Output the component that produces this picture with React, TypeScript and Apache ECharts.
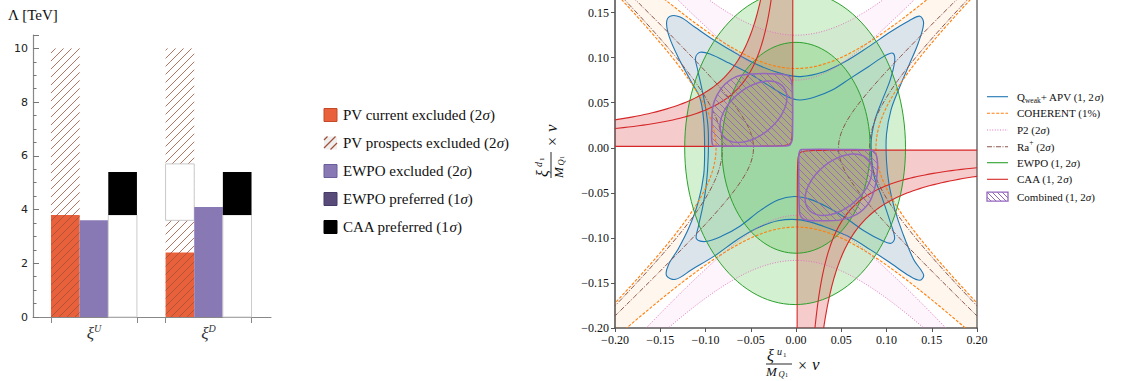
import React, { useEffect, useRef } from 'react';
import * as echarts from 'echarts';

// ===== Left panel: bar values (Λ in TeV) =====
const barCategories = ['U', 'D'];
const barCenters = [0, 1];
const pvCurrentExcluded = [3.8, 2.4];
const pvProspectsExcluded = [10, 10];
const pvProspectsGap: any[] = [null, [3.6, 5.7]];
const ewpoExcluded = [3.6, 4.1];
const caaPreferredRange = [[3.8, 5.4], [3.8, 5.4]];
const barGroupEdges = [-0.375, 0.375, 0.625, 1.375];
const leftLegendLabels = ['PV current excluded', 'PV prospects excluded', 'EWPO excluded', 'EWPO preferred', 'CAA preferred'];
const leftLegendSigma = ['2', '2', '2', '1', '1'];

// ===== Right panel: contour parameters =====
// EWPO ellipses: cx, cy, semi-axis x, semi-axis y (1σ, 2σ)
const ewpoEllipses = [[0, 0, 0.082, 0.117], [-0.001, 0, 0.122, 0.174]];
// CAA: asymptote corner (x, y) and outward direction (sx, sy)
const caaCorners = [[-0.0035, 0.0015, -1, 1], [0.0012, -0.0025, 1, -1]];
// CAA levels of |Δx|·|Δy|: inner edge, 1σ, 2σ
const caaLevels = [0.00001, 0.0039, 0.0058];
// COHERENT band: x² − (y/s)² between the two levels
const coherentSlope = 0.96;
const coherentLevels = [-0.0084, 0.0078];
// Ra+ : x² − (y/s)² = level (side branches)
const raSlope = 0.96;
const raLevels = [0.0022, 0.0066];
// P2: y²/C² − x²/D² = 1, [C, D] inner and outer
const p2Hyperbolas = [[0.075, 0.067], [0.125, 0.113]];
// Qweak + APV contours (x, y)
const qweak2sigma = [
  [-0.143, 0.139], [-0.139, 0.146], [-0.128, 0.145], [-0.112, 0.134], [-0.090, 0.119],
  [-0.065, 0.104], [-0.040, 0.091], [-0.015, 0.082], [0.005, 0.079], [0.030, 0.084],
  [0.055, 0.096], [0.080, 0.112], [0.105, 0.129], [0.125, 0.141], [0.137, 0.146],
  [0.141, 0.138], [0.135, 0.116], [0.125, 0.092], [0.114, 0.066], [0.105, 0.042],
  [0.100, 0.015], [0.100, -0.015], [0.103, -0.042], [0.109, -0.068], [0.118, -0.095],
  [0.130, -0.124], [0.141, -0.141], [0.137, -0.147], [0.125, -0.142], [0.106, -0.129],
  [0.082, -0.113], [0.057, -0.098], [0.030, -0.087], [0.005, -0.080], [-0.020, -0.081],
  [-0.045, -0.090], [-0.065, -0.102], [-0.090, -0.120], [-0.115, -0.135], [-0.133, -0.146],
  [-0.143, -0.142], [-0.141, -0.130], [-0.130, -0.112], [-0.118, -0.088], [-0.108, -0.060],
  [-0.102, -0.030], [-0.101, 0.000], [-0.102, 0.030], [-0.106, 0.055], [-0.115, 0.072],
  [-0.130, 0.100], [-0.140, 0.123],
];
const qweak1sigma = [
  [-0.111, 0.100], [-0.106, 0.106], [-0.095, 0.104], [-0.074, 0.094], [-0.051, 0.082],
  [-0.030, 0.069], [-0.010, 0.057], [0.004, 0.053], [0.020, 0.056], [0.040, 0.064],
  [0.060, 0.077], [0.080, 0.090], [0.098, 0.102], [0.107, 0.105], [0.109, 0.096],
  [0.104, 0.075], [0.095, 0.052], [0.087, 0.030], [0.083, 0.005], [0.086, -0.030],
  [0.095, -0.055], [0.104, -0.082], [0.109, -0.100], [0.105, -0.106], [0.095, -0.103],
  [0.075, -0.092], [0.055, -0.078], [0.035, -0.066], [0.015, -0.057], [-0.002, -0.054],
  [-0.020, -0.058], [-0.040, -0.070], [-0.062, -0.087], [-0.082, -0.098], [-0.100, -0.104],
  [-0.110, -0.101], [-0.108, -0.088], [-0.103, -0.065], [-0.099, -0.040], [-0.097, -0.010],
  [-0.097, 0.020], [-0.100, 0.045], [-0.105, 0.070], [-0.109, 0.088],
];
// Combined regions
const combined2sigmaTL = [
  [-0.092, 0.003], [-0.093, 0.025], [-0.092, 0.045], [-0.087, 0.059], [-0.078, 0.071],
  [-0.066, 0.079], [-0.050, 0.082], [-0.020, 0.082], [-0.009, 0.080], [-0.005, 0.074],
  [-0.004, 0.060], [-0.004, 0.010], [-0.007, 0.003], [-0.015, 0.002], [-0.080, 0.002],
];
const combined2sigmaBR = [
  [0.006, -0.002], [0.060, -0.002], [0.084, -0.003], [0.089, -0.009], [0.090, -0.025],
  [0.087, -0.045], [0.080, -0.062], [0.067, -0.074], [0.050, -0.080], [0.020, -0.081],
  [0.008, -0.079], [0.004, -0.073], [0.003, -0.010], [0.004, -0.004],
];
// cx, cy, semi-major, semi-minor, angle (deg)
const combined1sigma = [[-0.047, 0.040, 0.043, 0.026, 40], [0.047, -0.041, 0.043, 0.026, 40]];
const rightLegendLabels = ['Qweak', 'COHERENT (1%)', 'P2', 'Ra', 'EWPO', 'CAA', 'Combined'];

// ===== helpers =====
const lin = (a: number, b: number, n: number) => Array.from({ length: n + 1 }, (_, k) => a + (b - a) * k / n);
const logs = (a: number, b: number, n: number) => Array.from({ length: n + 1 }, (_, k) => a * Math.pow(b / a, k / n));

function hatch(poly: number[][], spacing: number, dir: number) {
  const g = (p: number[]) => p[0] + dir * p[1];
  let mn = Infinity, mx = -Infinity;
  poly.forEach(p => { const v = g(p); mn = Math.min(mn, v); mx = Math.max(mx, v); });
  const segs: number[][][] = [];
  for (let c = Math.ceil(mn / spacing) * spacing; c <= mx; c += spacing) {
    const xs: number[][] = [];
    for (let i = 0; i < poly.length; i++) {
      const a = poly[i], b = poly[(i + 1) % poly.length];
      const ga = g(a) - c, gb = g(b) - c;
      if ((ga < 0) !== (gb < 0)) {
        const t = ga / (ga - gb);
        xs.push([a[0] + t * (b[0] - a[0]), a[1] + t * (b[1] - a[1])]);
      }
    }
    xs.sort((p, q) => p[0] - q[0]);
    for (let k = 0; k + 1 < xs.length; k += 2) segs.push([xs[k], xs[k + 1]]);
  }
  return segs;
}
const segLines = (segs: number[][][], style: any) =>
  segs.map(s => ({ type: 'line', shape: { x1: s[0][0], y1: s[0][1], x2: s[1][0], y2: s[1][1] }, style }));

const SERIF = '"Liberation Serif", "DejaVu Serif", serif';
const HATCH_BROWN = '#a0503a';

// ===== bar renderer =====
function renderBars(params: any, api: any) {
  const i = params.dataIndex;
  const c = barCenters[i];
  const box = (k: number, y0: number, y1: number) => {
    const a = api.coord([c - 0.375 + 0.25 * k, y1]);
    const b = api.coord([c - 0.375 + 0.25 * (k + 1), y0]);
    return { x: a[0], y: a[1], width: b[0] - a[0], height: b[1] - a[1] };
  };
  const ch: any[] = [];
  ch.push({ type: 'rect', shape: box(0, 0, pvCurrentExcluded[i]), style: { fill: '#e8613b' } });
  const hb = box(0, 0, pvProspectsExcluded[i]);
  const poly = [[hb.x, hb.y], [hb.x + hb.width, hb.y], [hb.x + hb.width, hb.y + hb.height], [hb.x, hb.y + hb.height]];
  ch.push(...segLines(hatch(poly, 8, 1), { stroke: HATCH_BROWN, lineWidth: 1, opacity: 0.8 }));
  const gap = pvProspectsGap[i];
  if (gap) ch.push({ type: 'rect', shape: box(0, gap[0], gap[1]), style: { fill: '#fff', stroke: '#c8c8c8', lineWidth: 1 } });
  ch.push({ type: 'rect', shape: box(1, 0, ewpoExcluded[i]), style: { fill: '#8879b4' } });
  ch.push({ type: 'rect', shape: box(2, 0, caaPreferredRange[i][0]), style: { fill: '#fff', stroke: '#cccccc', lineWidth: 1 } });
  ch.push({ type: 'rect', shape: box(2, caaPreferredRange[i][0], caaPreferredRange[i][1]), style: { fill: '#000' } });
  return { type: 'group', children: ch };
}

// ===== contour renderer =====
function renderContours(params: any, api: any) {
  const pts = (arr: number[][]) => arr.map(p => api.coord(p));
  const ch: any[] = [];
  const fillPoly = (arr: number[][], fill: string, smooth = 0) =>
    ch.push({ type: 'polygon', shape: { points: pts(arr), smooth }, style: { fill, stroke: 'none' } });
  const strokePoly = (arr: number[][], stroke: string, lw: number, dash?: number[], smooth = 0) =>
    ch.push({ type: 'polygon', shape: { points: pts(arr), smooth }, style: { fill: 'none', stroke, lineWidth: lw, lineDash: dash } });
  const strokeLine = (arr: number[][], stroke: string, lw: number, dash?: number[]) =>
    ch.push({ type: 'polyline', shape: { points: pts(arr) }, style: { fill: 'none', stroke, lineWidth: lw, lineDash: dash } });

  const yS = lin(-0.32, 0.32, 120);
  const xS = lin(-0.34, 0.34, 120);
  const side = (f: number, s: number, sg: number, ys: number[]) => ys.map(y => [sg * Math.sqrt(f + (y / s) ** 2), y]);
  const tb = (f: number, s: number, sg: number, xs: number[]) => xs.map(x => [x, sg * s * Math.sqrt(x * x - f)]);
  const conic = (C: number, D: number, sg: number, xs: number[]) => xs.map(x => [x, sg * C * Math.sqrt(1 + (x / D) ** 2)]);

  // P2 fill
  const [pIn, pOut] = p2Hyperbolas;
  const pX = (h: number[]) => h[1] * Math.sqrt((0.3 / h[0]) ** 2 - 1);
  [1, -1].forEach(sg => {
    fillPoly([...conic(pIn[0], pIn[1], sg, lin(-pX(pIn), pX(pIn), 120)), ...conic(pOut[0], pOut[1], sg, lin(pX(pOut), -pX(pOut), 120))], 'rgba(227,119,194,0.07)');
  });
  // COHERENT fill
  const s = coherentSlope;
  const [cLo, cHi] = coherentLevels;
  const yR = [...yS].reverse(), xR = [...xS].reverse();
  fillPoly([...side(cHi, s, -1, yS), ...tb(cLo, s, 1, xS), ...side(cHi, s, 1, yR), ...tb(cLo, s, -1, xR)], 'rgba(255,127,14,0.07)');
  // Qweak fill
  fillPoly(qweak2sigma, 'rgba(185,210,232,0.5)', 0.35);
  // EWPO fills
  const ell = ewpoEllipses.map(e => {
    const c = api.coord([e[0], e[1]]);
    const ex = api.coord([e[0] + e[2], e[1]]);
    const ey = api.coord([e[0], e[1] + e[3]]);
    return { cx: c[0], cy: c[1], rx: ex[0] - c[0], ry: c[1] - ey[1] };
  });
  ell.slice().reverse().forEach(sh => ch.push({ type: 'ellipse', shape: sh, style: { fill: 'rgba(80,200,70,0.25)', stroke: 'none' } }));
  // CAA fills
  const [k0, k1, k2] = caaLevels;
  const caaShapes = caaCorners.map(([ax, ay, sx, sy]) => {
    const pt = (u: number) => (k: number) => [ax + sx * u, ay + sy * k / u];
    const outer = logs(k2 / 0.3, 0.3, 100).map(u => pt(u)(k2));
    const inner = logs(0.3, k0 / 0.3, 160).map(u => pt(u)(k0));
    const one = logs(k1 / 0.3, 0.3, 100).map(u => pt(u)(k1));
    return { region: [...outer, ...inner], one };
  });
  caaShapes.forEach(sh => fillPoly(sh.region, 'rgba(214,39,40,0.24)'));

  // lines
  strokePoly(qweak2sigma, '#1f77b4', 1.1, undefined, 0.35);
  strokePoly(qweak1sigma, '#1f77b4', 1.1, undefined, 0.35);
  const orangeDash = [3, 1.6];
  strokeLine(side(cHi, s, -1, yS), '#ff7f0e', 1.1, orangeDash);
  strokeLine(side(cHi, s, 1, yS), '#ff7f0e', 1.1, orangeDash);
  strokeLine(tb(cLo, s, 1, xS), '#ff7f0e', 1.1, orangeDash);
  strokeLine(tb(cLo, s, -1, xS), '#ff7f0e', 1.1, orangeDash);
  p2Hyperbolas.forEach(h => [1, -1].forEach(sg => strokeLine(conic(h[0], h[1], sg, lin(-pX(h), pX(h), 120)), '#e377c2', 1, [1, 1.6])));
  raLevels.forEach(f => [1, -1].forEach(sg => strokeLine(side(f, raSlope, sg, yS), '#8c564b', 1, [5, 1.5, 1, 1.5])));
  ell.forEach(sh => ch.push({ type: 'ellipse', shape: sh, style: { fill: 'none', stroke: '#2ca02c', lineWidth: 1 } }));
  caaShapes.forEach(sh => { strokePoly(sh.region, '#d62728', 1.1); strokeLine(sh.one, '#d62728', 1.1); });

  // combined
  [combined2sigmaTL, combined2sigmaBR].forEach(reg => {
    const pp = pts(reg);
    ch.push(...segLines(hatch(pp, 7, -1), { stroke: '#9467bd', lineWidth: 1, opacity: 0.9 }));
    ch.push({ type: 'polygon', shape: { points: pp, smooth: 0.25 }, style: { fill: 'none', stroke: '#9467bd', lineWidth: 1.5 } });
  });
  combined1sigma.forEach(([cx, cy, a, b, deg]) => {
    const th = deg * Math.PI / 180;
    const ring = lin(0, 2 * Math.PI, 72).slice(0, 72).map(t => [
      cx + a * Math.cos(t) * Math.cos(th) - b * Math.sin(t) * Math.sin(th),
      cy + a * Math.cos(t) * Math.sin(th) + b * Math.sin(t) * Math.cos(th),
    ]);
    strokePoly(ring, '#9467bd', 1.5);
  });
  return { type: 'group', children: ch };
}

// ===== graphic (legends, titles) =====
function txt(x: number, y: number, text: string, size: number, extra: any = {}) {
  return {
    type: 'text', x, y, silent: true,
    style: {
      text, fill: '#111', font: `${extra.italic ? 'italic ' : ''}${size}px ${SERIF}`,
      align: extra.align || 'left', verticalAlign: 'middle',
      textAlign: extra.align || 'left', textVerticalAlign: 'middle',
      rich: extra.rich,
    },
  };
}

function buildGraphic() {
  const g: any[] = [];
  g.push(txt(8, 15, 'Λ [TeV]', 15));
  // left legend
  const rowsL = [115, 143, 171, 199, 227];
  const richL = {
    n: { fontFamily: SERIF, fontSize: 15, fill: '#111' },
    i: { fontFamily: SERIF, fontSize: 15, fontStyle: 'italic', fill: '#111' },
  };
  rowsL.forEach((cy, k) => {
    const x = 324, y = cy - 6.5;
    if (k === 0) g.push({ type: 'rect', shape: { x, y, width: 13, height: 13 }, style: { fill: '#e8613b', stroke: '#c24a28', lineWidth: 1 } });
    if (k === 1) {
      g.push({ type: 'rect', shape: { x, y, width: 13, height: 13 }, style: { fill: '#efefef', stroke: 'none' } });
      const poly = [[x, y], [x + 13, y], [x + 13, y + 13], [x, y + 13]];
      g.push(...segLines(hatch(poly, 8, 1), { stroke: HATCH_BROWN, lineWidth: 1.2 }));
    }
    if (k === 2) g.push({ type: 'rect', shape: { x, y, width: 13, height: 13 }, style: { fill: '#8879b4', stroke: '#6b5e9c', lineWidth: 1 } });
    if (k === 3) g.push({ type: 'rect', shape: { x, y, width: 13, height: 13 }, style: { fill: '#584b7a', stroke: '#463b66', lineWidth: 1 } });
    if (k === 4) g.push({ type: 'rect', shape: { x, y, width: 13, height: 13 }, style: { fill: '#000', stroke: '#000', lineWidth: 1 } });
    g.push(txt(343, cy, `{n|${leftLegendLabels[k]} (${leftLegendSigma[k]}}{i|σ}{n|)}`, 15, { rich: richL }));
  });
  // right legend
  const rowsR = [96.7, 113.3, 130, 146.7, 162.7, 179.3, 196.7];
  const styles: any[] = [
    { stroke: '#1f77b4' },
    { stroke: '#ff7f0e', lineDash: [3, 1.6] },
    { stroke: '#e377c2', lineDash: [1, 1.6] },
    { stroke: '#8c564b', lineDash: [5, 1.5, 1, 1.5] },
    { stroke: '#2ca02c' },
    { stroke: '#d62728' },
  ];
  const richR = {
    n: { fontFamily: SERIF, fontSize: 11, fill: '#111', lineHeight: 16 },
    i: { fontFamily: SERIF, fontSize: 11, fontStyle: 'italic', fill: '#111', lineHeight: 16 },
    sub: { fontFamily: SERIF, fontSize: 7.5, fill: '#111', verticalAlign: 'bottom', lineHeight: 9 },
    sup: { fontFamily: SERIF, fontSize: 7.5, fill: '#111', verticalAlign: 'top', lineHeight: 9 },
  };
  const texts = [
    '{n|Q}{sub|weak}{n|+ APV (1, 2}{i|σ}{n|)}',
    `{n|${rightLegendLabels[1]}}`,
    '{n|P2 (2}{i|σ}{n|)}',
    '{n|Ra}{sup|+}{n| (2}{i|σ}{n|)}',
    '{n|EWPO (1, 2}{i|σ}{n|)}',
    '{n|CAA (1, 2}{i|σ}{n|)}',
    '{n|Combined (1, 2}{i|σ}{n|)}',
  ];
  rowsR.forEach((cy, k) => {
    if (k < 6) g.push({ type: 'line', shape: { x1: 987, y1: cy, x2: 1008, y2: cy }, style: { lineWidth: 1.1, ...styles[k] } });
    else {
      const x = 987, y = cy - 4.5;
      const poly = [[x, y], [x + 21, y], [x + 21, y + 9], [x, y + 9]];
      g.push(...segLines(hatch(poly, 5, -1), { stroke: '#9467bd', lineWidth: 1 }));
      g.push({ type: 'rect', shape: { x, y, width: 21, height: 9 }, style: { fill: 'none', stroke: '#9467bd', lineWidth: 1.3 } });
    }
    g.push(txt(1017, cy, texts[k], 11, { rich: richR }));
  });
  // axis titles of the right panel
  const frac = (sup: string) => [
    txt(-12, -9, 'ξ', 16, { italic: true }),
    txt(-2, -13, sup, 10, { italic: true }),
    txt(4, -9.5, '1', 7),
    { type: 'line', shape: { x1: -13, y1: 0, x2: 13, y2: 0 }, style: { stroke: '#111', lineWidth: 0.9 } },
    txt(-13, 7.5, 'M', 13, { italic: true }),
    txt(-0.5, 9.5, 'Q', 8.5, { italic: true }),
    txt(6, 11, '1', 6),
    txt(19, 1, '×', 16),
    txt(33, 0, 'v', 17, { italic: true }),
  ];
  g.push({ type: 'group', x: 779, y: 364, children: frac('u') });
  g.push({ type: 'group', x: 551, y: 165, rotation: Math.PI / 2, children: frac('d') });
  return g;
}

const fmt = (v: number) => v.toFixed(2).replace('-', '−');

function buildOption(): any {
  const tickLabel = { fontFamily: SERIF, fontSize: 12, color: '#111' };
  return {
    animation: false,
    backgroundColor: '#ffffff',
    grid: [
      { left: 33, top: 35, width: 238, height: 282 },
      { left: 615, top: 0, width: 362, height: 328 },
    ],
    xAxis: [
      {
        gridIndex: 0, type: 'value', min: -0.532, max: 1.545,
        splitLine: { show: false },
        axisLine: { onZero: false, lineStyle: { color: '#888', width: 1.2 } },
        axisTick: { show: true, customValues: barGroupEdges, length: 6, lineStyle: { color: '#888' } },
        axisLabel: {
          customValues: barCenters, margin: 6,
          formatter: (v: number) => `{x|ξ}{s|${barCategories[barCenters.indexOf(Math.round(v))]}}`,
          rich: {
            x: { fontFamily: SERIF, fontStyle: 'italic', fontSize: 17, color: '#333', lineHeight: 20 },
            s: { fontFamily: SERIF, fontStyle: 'italic', fontSize: 10, color: '#333', verticalAlign: 'top', lineHeight: 10 },
          },
        },
      },
      {
        gridIndex: 1, type: 'value', min: -0.2, max: 0.2, interval: 0.05,
        splitLine: { show: false },
        axisLine: { onZero: false, lineStyle: { color: '#555', width: 1.6 } },
        axisTick: { length: 4, lineStyle: { color: '#555' } },
        axisLabel: { ...tickLabel, margin: 6, formatter: fmt },
      },
    ],
    yAxis: [
      {
        gridIndex: 0, type: 'value', min: 0, max: 10.5, interval: 2,
        splitLine: { show: false },
        axisLine: { show: true, onZero: false, lineStyle: { color: '#888', width: 1.2 } },
        axisTick: { show: true, inside: true, length: 6, lineStyle: { color: '#777' } },
        minorTick: { show: true, splitNumber: 4, length: 3.5, lineStyle: { color: '#777' } },
        axisLabel: { fontFamily: '"DejaVu Sans", sans-serif', fontSize: 11, color: '#222', margin: 5, showMaxLabel: false },
      },
      {
        gridIndex: 1, type: 'value', min: -0.2, max: 0.164, interval: 0.05,
        splitLine: { show: false },
        axisLine: { show: true, onZero: false, lineStyle: { color: '#555', width: 1.6 } },
        axisTick: { show: true, length: 4, lineStyle: { color: '#555' } },
        axisLabel: { ...tickLabel, margin: 6, formatter: fmt, showMaxLabel: false },
      },
      {
        gridIndex: 1, type: 'value', min: -0.2, max: 0.164, position: 'right',
        splitLine: { show: false },
        axisLine: { show: true, onZero: false, lineStyle: { color: '#777', width: 1.6 } },
        axisTick: { show: false }, axisLabel: { show: false },
      },
    ],
    series: [
      {
        type: 'custom', xAxisIndex: 0, yAxisIndex: 0, renderItem: renderBars,
        data: barCenters.map(c => [c, 0]), silent: true,
      },
      {
        type: 'custom', xAxisIndex: 1, yAxisIndex: 1, renderItem: renderContours,
        data: [[0, 0]], clip: true, silent: true,
      },
    ],
    graphic: buildGraphic(),
  };
}

export default function App() {
  const ref = useRef<HTMLDivElement>(null);
  useEffect(() => {
    const chart = echarts.init(ref.current!, null, { renderer: 'svg' });
    chart.setOption(buildOption());
    return () => chart.dispose();
  }, []);
  return <div ref={ref} style={{ position: 'absolute', left: 0, top: 0, width: 1125, height: 381 }} />;
}
